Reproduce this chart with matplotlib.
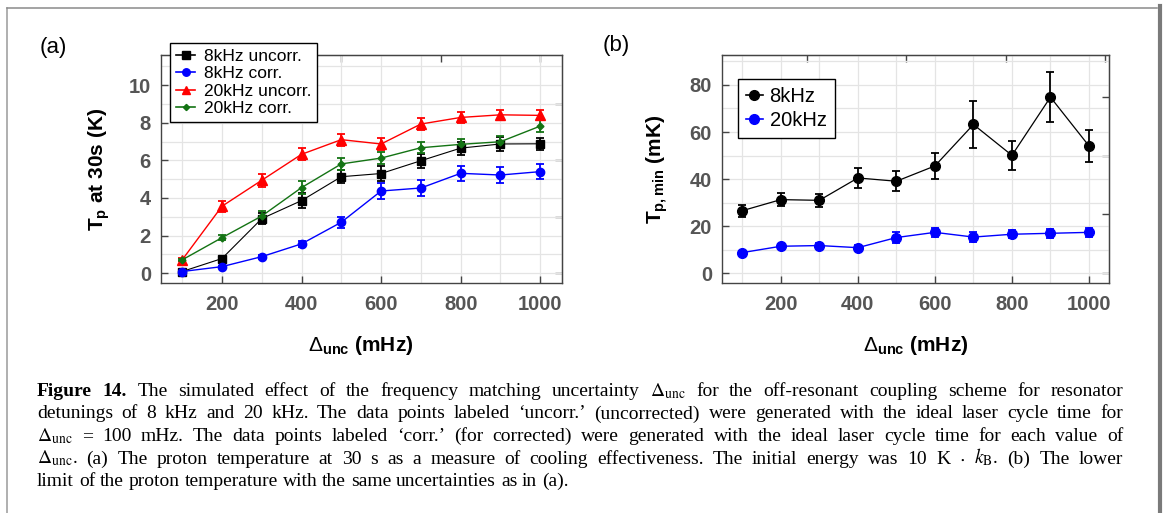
import numpy as np
import matplotlib
matplotlib.use("Agg")
import matplotlib.pyplot as plt
from matplotlib.lines import Line2D
from matplotlib.ticker import MultipleLocator, FixedLocator

plt.rcParams["font.family"] = ["Liberation Sans", "DejaVu Sans"]
plt.rcParams["mathtext.fontset"] = "custom"
plt.rcParams["mathtext.rm"] = "Liberation Sans"
plt.rcParams["mathtext.bf"] = "Liberation Sans:bold"
plt.rcParams["mathtext.it"] = "Liberation Sans:italic"
plt.rcParams["mathtext.sf"] = "Liberation Sans"

# ---------------- data ----------------
delta_unc = [100, 200, 300, 400, 500, 600, 700, 800, 900, 1000]

# panel (a): T_p at 30 s (K)
a_8k_uncorr = [0.09, 0.78, 2.9, 3.86, 5.13, 5.3, 5.98, 6.65, 6.87, 6.88]
a_8k_uncorr_err = [0.05, 0.1, 0.3, 0.38, 0.35, 0.4, 0.38, 0.35, 0.35, 0.33]
a_8k_corr = [0.09, 0.35, 0.88, 1.56, 2.71, 4.37, 4.53, 5.31, 5.22, 5.4]
a_8k_corr_err = [0.04, 0.05, 0.1, 0.17, 0.3, 0.4, 0.4, 0.4, 0.42, 0.4]
a_20k_uncorr = [0.71, 3.56, 4.94, 6.32, 7.1, 6.87, 7.93, 8.28, 8.42, 8.39]
a_20k_uncorr_err = [0.08, 0.3, 0.35, 0.32, 0.32, 0.32, 0.3, 0.28, 0.28, 0.27]
a_20k_corr = [0.71, 1.89, 3.04, 4.55, 5.81, 6.12, 6.67, 6.85, 6.99, 7.82]
a_20k_corr_err = [0.06, 0.14, 0.25, 0.33, 0.33, 0.33, 0.3, 0.28, 0.3, 0.3]

# panel (b): T_p,min (mK)
b_8k = [26.6, 31.3, 31.0, 40.5, 39.1, 45.6, 63.2, 50.1, 74.8, 54.1]
b_8k_err = [2.5, 2.6, 2.8, 4.3, 4.2, 5.7, 9.8, 6.2, 10.5, 6.7]
b_20k = [8.8, 11.5, 11.8, 10.9, 15.2, 17.4, 15.4, 16.6, 17.0, 17.4]
b_20k_err = [0.8, 1.0, 1.2, 1.0, 2.5, 2.0, 2.0, 1.8, 1.8, 2.0]

labels_a = ["8kHz uncorr.", "8kHz corr.", "20kHz uncorr.", "20kHz corr."]
labels_b = ["8kHz", "20kHz"]

caption_lines = [
    "Figure 14. The simulated effect of the frequency matching uncertainty $\\Delta_{\\mathrm{unc}}$ for the off-resonant coupling scheme for resonator",
    "detunings of 8 kHz and 20 kHz. The data points labeled \u2018uncorr.\u2019 (uncorrected) were generated with the ideal laser cycle time for",
    "$\\Delta_{\\mathrm{unc}}$ = 100 mHz. The data points labeled \u2018corr.\u2019 (for corrected) were generated with the ideal laser cycle time for each value of",
    "$\\Delta_{\\mathrm{unc}}$. (a) The proton temperature at 30 s as a measure of cooling effectiveness. The initial energy was 10 K $\\cdot$ $k_{\\mathrm{B}}$. (b) The lower",
    "limit of the proton temperature with the same uncertainties as in (a).",
]

# ---------------- figure ----------------
W, H = 1163, 513
fig = plt.figure(figsize=(W / 100, H / 100), dpi=100)
fig.patch.set_facecolor("white")


def px_rect(l, t, r, b):
    return [l / W, 1 - b / H, (r - l) / W, (b - t) / H]


axA = fig.add_axes(px_rect(160.7, 55, 561.7, 283))
axB = fig.add_axes(px_rect(721.7, 55, 1109, 283))

tick_col = "#555555"
spine_col = "#444444"
grid_col = "#e4e4e4"


def style_axes(ax, xlim, ylim, ymajor, yminor, top_ticks, right_ticks):
    ax.set_xlim(*xlim)
    ax.set_ylim(*ylim)
    ax.xaxis.set_major_locator(FixedLocator([200, 400, 600, 800, 1000]))
    ax.xaxis.set_minor_locator(MultipleLocator(100))
    ax.yaxis.set_major_locator(MultipleLocator(ymajor))
    ax.yaxis.set_minor_locator(MultipleLocator(yminor))
    ax.grid(True, which="both", color=grid_col, lw=0.9)
    ax.set_axisbelow(True)
    for s in ax.spines.values():
        s.set_color(spine_col)
        s.set_linewidth(1.0)
    ax.tick_params(which="major", direction="in", length=5, width=1,
                   color=spine_col, labelcolor=tick_col, labelsize=14.5)
    ax.tick_params(which="minor", length=0)
    ax.tick_params(axis="x", pad=9)
    ax.tick_params(axis="y", pad=7)
    for lab in ax.get_xticklabels() + ax.get_yticklabels():
        lab.set_fontweight("bold")
    sx = ax.secondary_xaxis("top")
    sx.set_xticks(top_ticks)
    sx.set_xticklabels([])
    sx.tick_params(direction="in", length=5, width=1, color=spine_col)
    sx.spines["top"].set_color(spine_col)
    sy = ax.secondary_yaxis("right")
    sy.set_yticks(right_ticks)
    sy.set_yticklabels([])
    sy.tick_params(direction="in", length=5, width=1, color=spine_col)
    sy.spines["right"].set_color(spine_col)


style_axes(axA, (46, 1054), (-0.52, 11.6), 2, 1, [250, 500, 750, 1000], [0, 3, 6, 9])
style_axes(axB, (46.5, 1052), (-4.1, 92.7), 20, 10, [267, 525, 784, 1042], [0, 25, 50, 75])

ekw = dict(capsize=3, elinewidth=1.3, capthick=1.3)

# panel (a)
seriesA = [
    (a_8k_uncorr, a_8k_uncorr_err, "black", "s", 6, 0.8),
    (a_8k_corr, a_8k_corr_err, "#0000ff", "o", 6, 1.0),
    (a_20k_uncorr, a_20k_uncorr_err, "#ff0000", "^", 7, 1.0),
    (a_20k_corr, a_20k_corr_err, "#137313", "D", 3.5, 1.0),
]
for vals, errs, col, mk, ms, lw in seriesA:
    axA.errorbar(delta_unc, vals, yerr=errs, color=col, marker=mk, ms=ms,
                 lw=lw, mec=col, mfc=col, **ekw)

handlesA = [Line2D([], [], color=c, marker=m, ms=ms * 0.9, lw=1.2)
            for _, _, c, m, ms, _ in seriesA]
legA = axA.legend(handlesA, labels_a, loc="upper left",
                  bbox_to_anchor=(0.023, 1.053), borderaxespad=0,
                  fontsize=12.5, handlelength=1.1, handletextpad=0.5,
                  labelspacing=0.12, borderpad=0.35, fancybox=False,
                  framealpha=1, edgecolor="black")
legA.get_frame().set_linewidth(1.0)
legA.set_zorder(10)

axA.set_xlabel(r"$\Delta_{\mathbf{unc}}$ (mHz)", fontsize=15, fontweight="bold", labelpad=14)
axA.set_ylabel(r"$\mathbf{T_{p}}$ at 30s (K)", fontsize=15, fontweight="bold", labelpad=12)

# panel (b)
axB.errorbar(delta_unc, b_8k, yerr=b_8k_err, color="black", marker="o", ms=7,
             lw=0.9, **ekw)
axB.errorbar(delta_unc, b_20k, yerr=b_20k_err, color="#0000ff", marker="o", ms=7,
             lw=1.0, **ekw)
handlesB = [Line2D([], [], color="black", marker="o", ms=7, lw=1.2),
            Line2D([], [], color="#0000ff", marker="o", ms=7, lw=1.2)]
legB = axB.legend(handlesB, labels_b, loc="upper left",
                  bbox_to_anchor=(0.042, 0.895), borderaxespad=0,
                  fontsize=14.5, handlelength=0.8, handletextpad=0.35,
                  labelspacing=0.22, borderpad=0.42, fancybox=False,
                  framealpha=1, edgecolor="black")
legB.get_frame().set_linewidth(1.0)

axB.set_xlabel(r"$\Delta_{\mathbf{unc}}$ (mHz)", fontsize=15, fontweight="bold", labelpad=14)
axB.set_ylabel(r"$\mathbf{T_{p,min}}$ (mK)", fontsize=15, fontweight="bold", labelpad=14)

fig.text(53 / W, 1 - 48 / H, "(a)", fontsize=16, ha="center", va="center")
fig.text(616 / W, 1 - 45 / H, "(b)", fontsize=16, ha="center", va="center")

# ---------------- frame ----------------
fig.add_artist(Line2D([7 / W, 7 / W], [0, 1 - 7.5 / H], transform=fig.transFigure,
                      color="#9a9a9a", lw=1.1))
fig.add_artist(Line2D([7 / W, 1157 / W], [1 - 7.5 / H, 1 - 7.5 / H],
                      transform=fig.transFigure, color="#8a8a8a", lw=1.1))
fig.add_artist(Line2D([1159.5 / W, 1159.5 / W], [0, 1 - 6 / H],
                      transform=fig.transFigure, color="#7a7a7a", lw=3.0))

# ---------------- caption (justified) ----------------
renderer = fig.canvas.get_renderer()
cap_left, cap_right = 37, 1123
baselines = [396, 418.5, 441, 463.5, 486]
serif = ["Liberation Serif", "DejaVu Serif"]


def tokens_of(i, line):
    words = line.split(" ")
    toks = []
    for j, w in enumerate(words):
        bold = (i == 0 and j < 2)
        toks.append((w, bold))
    return toks


def make_text(tok, size):
    w, bold = tok
    kw = dict(fontsize=size, family=serif, ha="left", va="baseline",
              fontweight="bold" if bold else "normal")
    if "$" in w:
        kw["math_fontfamily"] = "stix"
    return fig.text(0, 0, w, **kw)


def width_px(t):
    return t.get_window_extent(renderer).width


def natural(size):
    sp_a = fig.text(0, 0, "x x", fontsize=size, family=serif)
    sp_b = fig.text(0, 0, "xx", fontsize=size, family=serif)
    sp = width_px(sp_a) - width_px(sp_b)
    sp_a.remove(); sp_b.remove()
    widths = []
    for i, line in enumerate(caption_lines):
        ws = []
        for tok in tokens_of(i, line):
            t = make_text(tok, size)
            ws.append(width_px(t))
            t.remove()
        widths.append(ws)
    return sp, widths


size = 14.0
sp, widths = natural(size)
maxw = max(sum(ws) + sp * (len(ws) - 1) for ws in widths[:-1])
avail = cap_right - cap_left
if maxw > avail * 0.985:
    size = size * avail * 0.985 / maxw
    sp, widths = natural(size)

for i, line in enumerate(caption_lines):
    toks = tokens_of(i, line)
    ws = widths[i]
    if i < len(caption_lines) - 1:
        gap = (avail - sum(ws)) / (len(ws) - 1)
    else:
        gap = sp
    x = cap_left
    for tok, w in zip(toks, ws):
        t = make_text(tok, size)
        t.set_position((x / W, 1 - baselines[i] / H))
        x += w + gap

fig.savefig("out.png", dpi=100)
